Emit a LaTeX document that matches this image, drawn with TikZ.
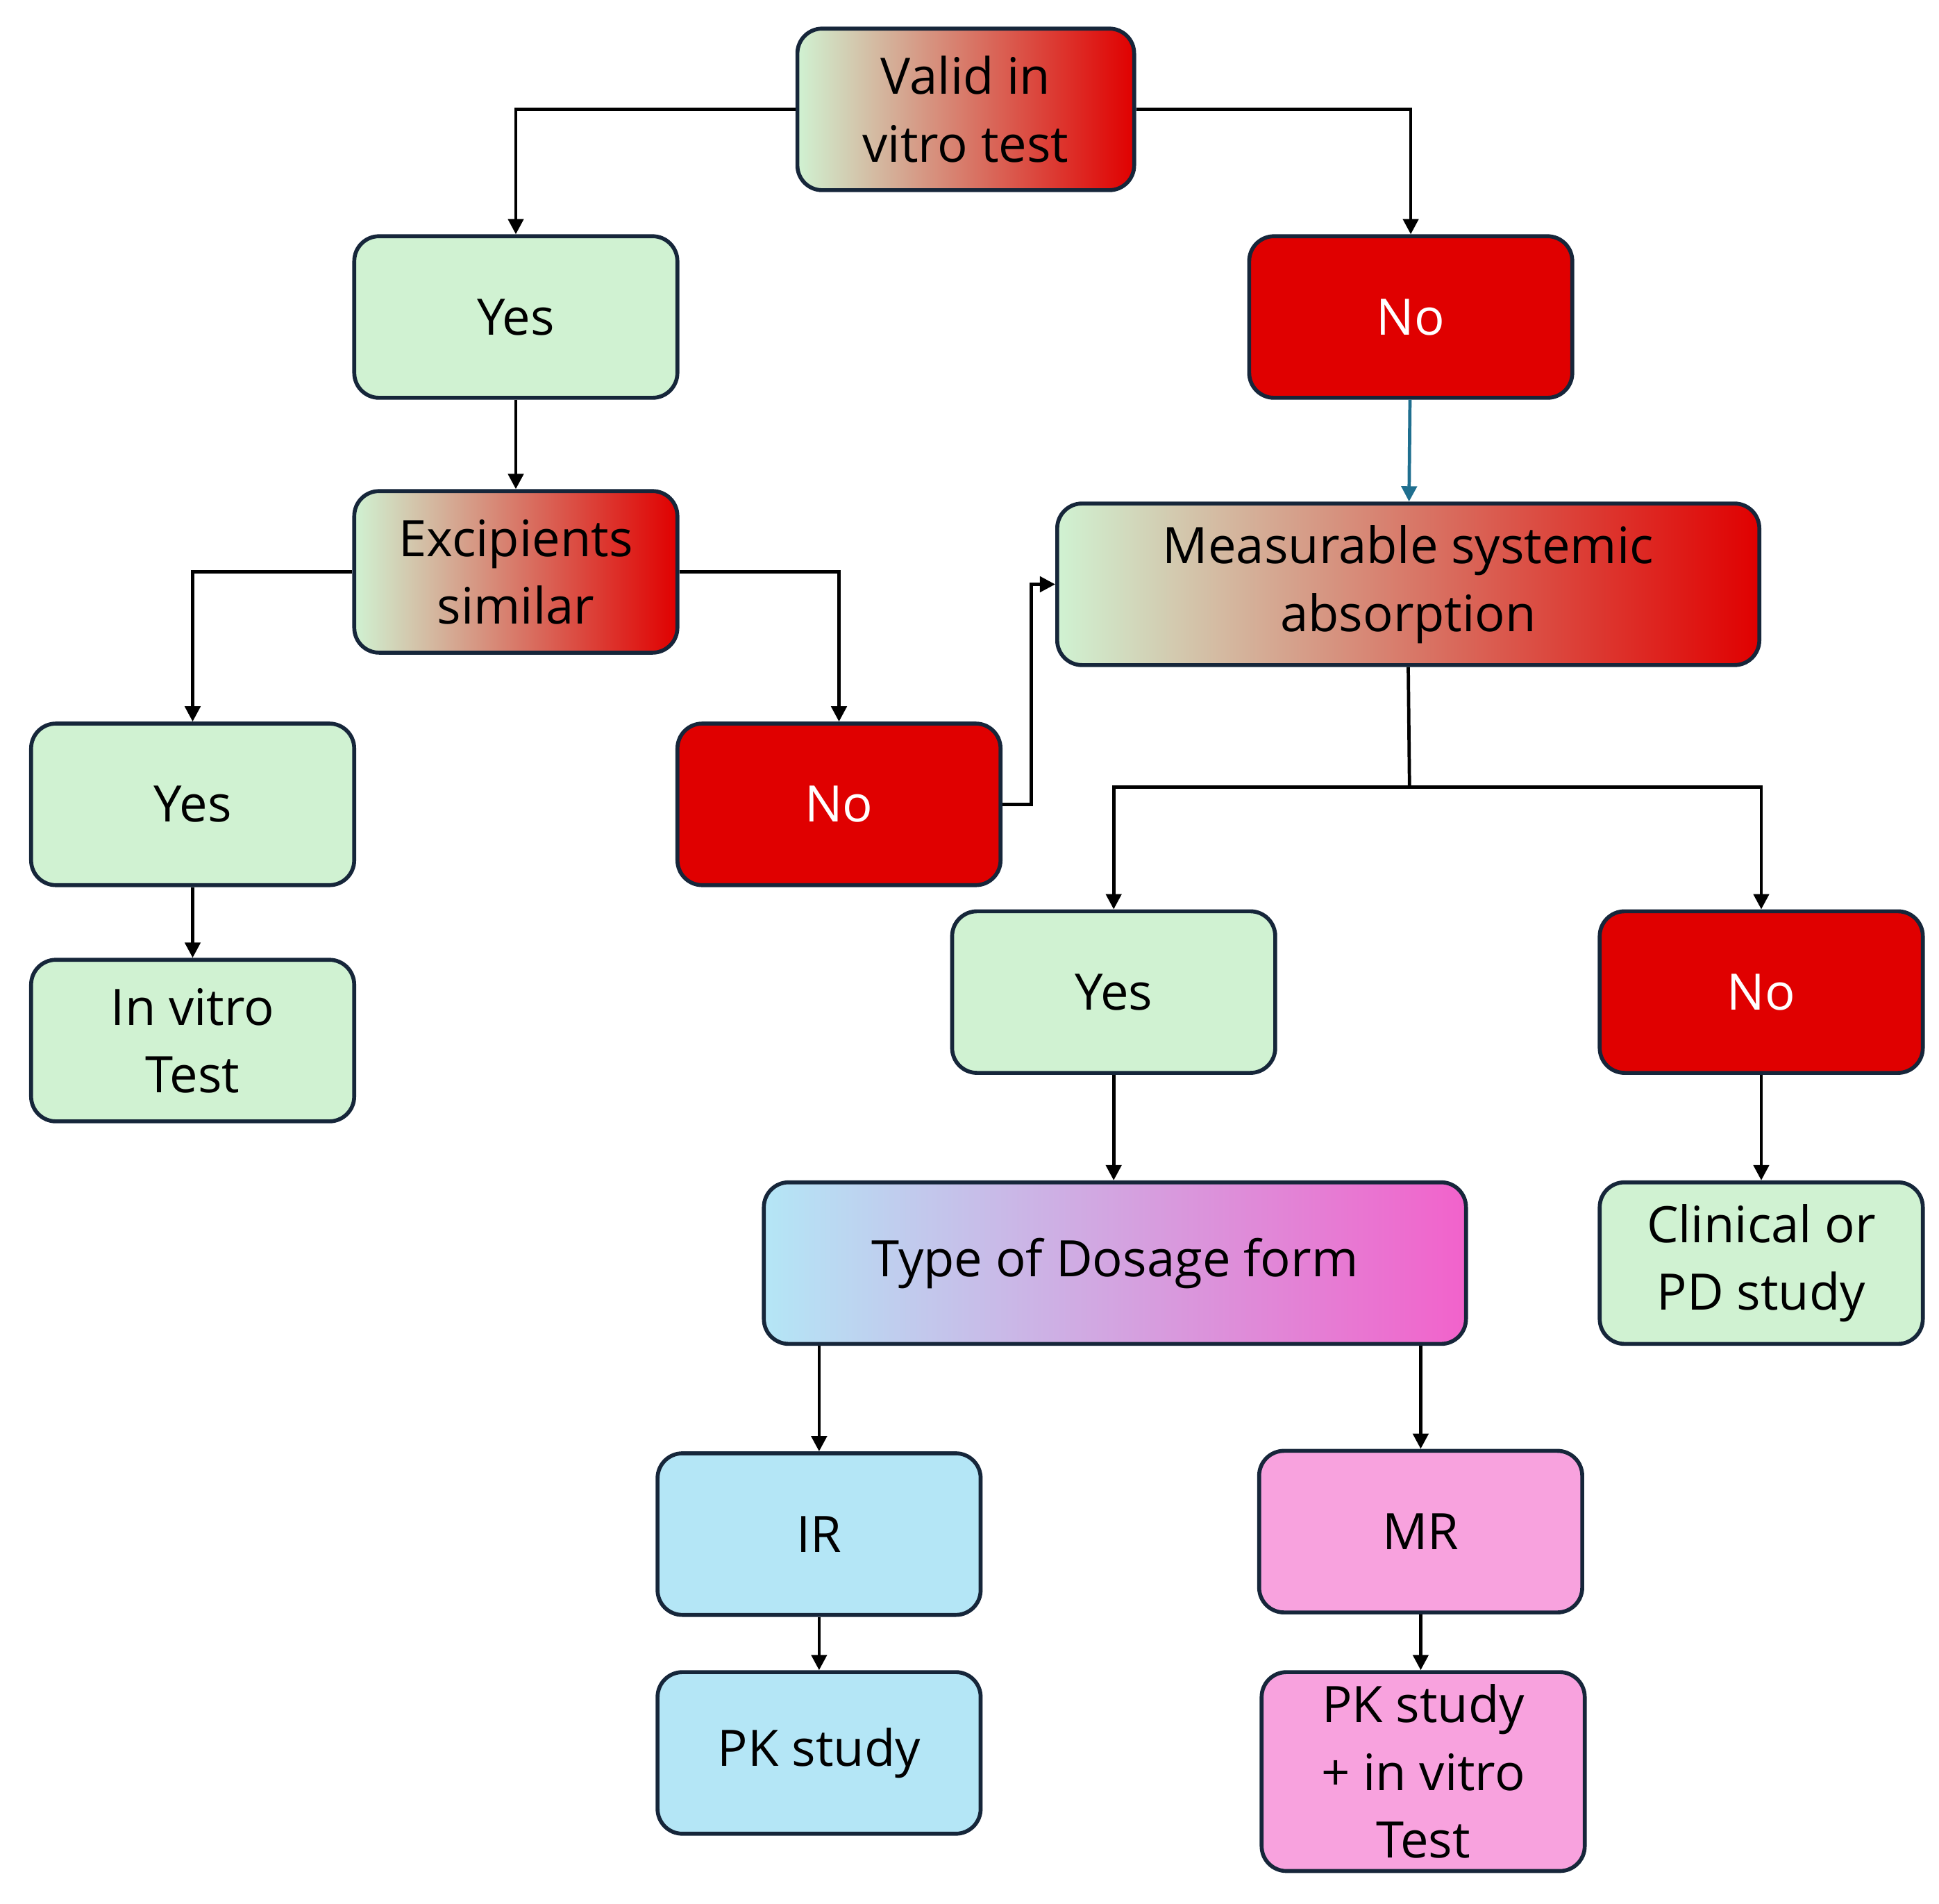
\documentclass[tikz,border=0pt]{standalone}
\usepackage{fontspec}
\setmainfont{Open Sans}
\usetikzlibrary{arrows.meta}
\definecolor{gr}{HTML}{D0F2D2}
\definecolor{rd}{HTML}{E00000}
\definecolor{tan}{HTML}{D9C9A8}
\definecolor{bl}{HTML}{B4E6F6}
\definecolor{pk}{HTML}{F8A2DE}
\definecolor{pkd}{HTML}{F262CB}
\definecolor{pur}{HTML}{D6BEE4}
\definecolor{bd}{HTML}{16263A}
\definecolor{teal}{HTML}{1F6F8F}
\begin{document}
\begin{tikzpicture}[x=0.02cm,y=-0.02cm,
 box/.style={draw=bd,line width=1.8pt,rounded corners=0.4cm,align=center,
   font=\fontsize{23}{31}\selectfont,inner sep=0pt,minimum height=2.6cm},
 w/.style={minimum width=5.2cm},
 ww/.style={minimum width=11.3cm},
 g/.style={fill=gr},
 r/.style={fill=rd,text=white},
 gd/.style={left color=gr,middle color=tan,right color=rd},
 bg/.style={left color=bl,middle color=pur,right color=pkd},
 b/.style={fill=bl},
 p/.style={fill=pk},
 ar/.style={-{Triangle[length=7pt,width=7pt]},line width=1.5pt,black}]
\useasboundingbox (0,0) rectangle (1560,1531);
\node[box,gd,minimum width=5.42cm] (valid) at (777,88) {Valid in\\vitro test};
\node[box,w,g] (y1) at (415,255) {Yes};
\node[box,w,r] (n1) at (1135,255) {No};
\node[box,w,gd] (exc) at (415,460) {Excipients\\similar};
\node[box,ww,gd] (meas) at (1133,470) {Measurable systemic\\absorption};
\node[box,w,g] (y2) at (155,647) {Yes};
\node[box,w,r] (n2) at (675,647) {No};
\node[box,w,g] (y3) at (896,798) {Yes};
\node[box,w,r] (n3) at (1417,798) {No};
\node[box,w,g] (iv) at (155,837) {In vitro\\Test};
\node[box,w,g] (cl) at (1417,1016) {Clinical or\\PD study};
\node[box,ww,bg] (type) at (897,1016) {Type of Dosage form};
\node[box,w,b] (ir) at (659,1234) {IR};
\node[box,w,p] (mr) at (1143,1232) {MR};
\node[box,w,b] (pk) at (659,1410) {PK study};
\node[box,w,p,minimum height=3.2cm] (pkv) at (1145,1425) {PK study\\+ in vitro\\Test};
\draw[ar] (valid.west) -| (y1.north);
\draw[ar] (valid.east) -| (n1.north);
\draw[ar] (y1) -- (exc);
\draw[ar,teal] (n1) -- (meas);
\draw[ar] (exc.west) -| (y2.north);
\draw[ar] (exc.east) -| (n2.north);
\draw[ar] (n2.east) -- ++(23,0) |- (meas.west);
\coordinate (j) at (1134,633);
\draw[line width=1.5pt] (meas.south) -- (j);
\draw[ar] (j) -| (y3.north);
\draw[ar] (j) -| (n3.north);
\draw[ar] (y2) -- (iv);
\draw[ar] (y3.south) -- (type.north -| y3.south);
\draw[ar] (n3) -- (cl);
\draw[ar] (type.south -| ir.north) -- (ir.north);
\draw[ar] (type.south -| mr.north) -- (mr.north);
\draw[ar] (ir) -- (pk);
\draw[ar] (mr.south) -- (pkv.north -| mr.south);
\end{tikzpicture}
\end{document}
